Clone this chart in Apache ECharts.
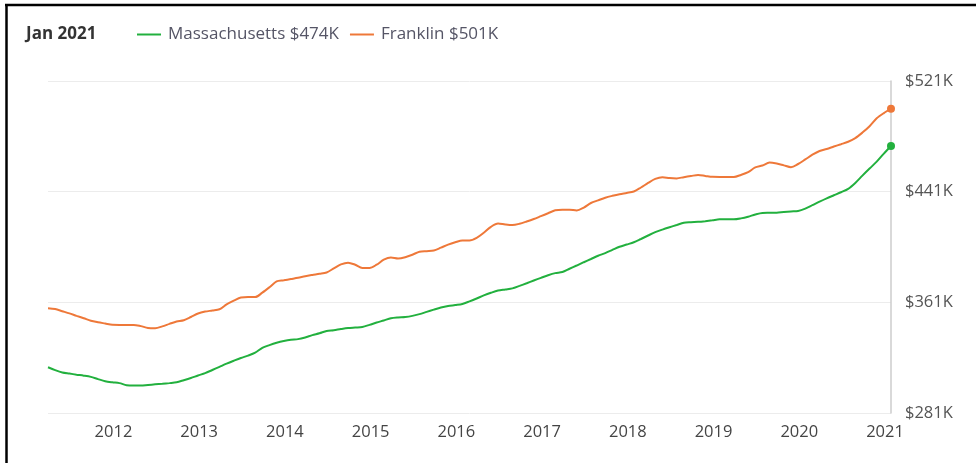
<!DOCTYPE html>
<html>
<head>
<meta charset="utf-8">
<script src="https://cdn.jsdelivr.net/npm/echarts@6/dist/echarts.min.js"></script>
<style>
  html, body { margin: 0; padding: 0; background: #fff; }
  #chart { width: 976px; height: 463px; }
</style>
</head>
<body>
<div id="chart"></div>
<script>
// monthly series, Mar 2011 .. Jan 2021 (values in $K)
const startYear = 2011;
const startMonth = 3;

const massachusetts = [
  314.1, 312.0, 310.3, 309.5, 308.7, 308.0, 307.1, 305.5, 304.0, 303.2,
  302.6, 301.1, 300.8, 300.8, 301.3, 301.7, 302.1, 302.6, 303.2, 304.7,
  306.3, 308.1, 309.8, 312.1, 314.4, 316.7, 318.8, 320.8, 322.5, 324.6,
  328.1, 330.1, 331.8, 333.1, 334.0, 334.4, 335.6, 337.3, 338.6, 340.3,
  340.9, 341.7, 342.4, 342.8, 343.2, 344.7, 346.4, 347.9, 349.5, 350.1,
  350.4, 351.2, 352.5, 354.1, 355.7, 357.2, 358.3, 359.0, 359.8, 361.7,
  363.8, 366.0, 367.9, 369.5, 370.3, 371.1, 372.9, 374.8, 376.8, 378.7,
  380.6, 382.1, 382.9, 385.3, 387.6, 390.0, 392.3, 394.7, 396.6, 398.9,
  401.2, 402.8, 404.4, 406.8, 409.3, 411.7, 413.6, 415.3, 416.9, 418.5,
  418.9, 419.2, 419.7, 420.3, 421.0, 421.0, 421.0, 421.7, 422.9, 424.5,
  425.6, 425.7, 425.8, 426.3, 426.7, 427.0, 428.7, 431.2, 433.8, 436.2,
  438.4, 440.6, 443.0, 447.3, 452.6, 457.7, 462.7, 468.5, 474.0
];

const franklin = [
  356.8, 356.2, 354.6, 353.0, 351.2, 349.5, 347.7, 346.6, 345.7, 344.8,
  344.7, 344.7, 344.7, 343.8, 342.5, 342.3, 343.6, 345.4, 347.1, 348.1,
  350.4, 352.9, 354.3, 355.1, 356.0, 359.5, 362.2, 364.5, 364.8, 364.8,
  368.0, 371.9, 376.1, 376.9, 377.8, 378.7, 379.9, 380.8, 381.6, 382.6,
  385.5, 388.4, 389.7, 388.2, 385.9, 385.8, 388.2, 391.8, 393.4, 392.7,
  393.6, 395.4, 397.6, 398.0, 398.4, 400.5, 402.7, 404.4, 405.7, 405.7,
  407.6, 411.3, 415.6, 418.0, 417.3, 416.9, 417.8, 419.4, 421.2, 423.3,
  425.4, 427.5, 428.0, 428.0, 427.4, 429.5, 432.8, 434.7, 436.6, 438.0,
  439.2, 440.1, 441.1, 444.0, 447.3, 450.2, 451.4, 450.8, 450.6, 451.5,
  452.3, 453.1, 452.4, 451.7, 451.6, 451.6, 451.6, 453.1, 455.1, 458.5,
  459.9, 462.0, 461.3, 460.0, 458.7, 461.0, 464.3, 467.7, 470.4, 471.8,
  473.6, 475.3, 477.1, 479.7, 483.7, 488.3, 494.0, 497.8, 501.0
];

const yTicks = [281, 361, 441, 521];
const seriesNames = ['Massachusetts $474K', 'Franklin $501K'];
const headerLabel = 'Jan 2021';

const months = [];
for (let i = 0; i < massachusetts.length; i++) {
  const m = startMonth - 1 + i;
  const y = startYear + Math.floor(m / 12);
  const mm = (m % 12) + 1;
  months.push(y + '-' + (mm < 10 ? '0' + mm : mm));
}

const lastIndex = months.length - 1;
const font = '"Open Sans", "Noto Sans", sans-serif';

const chart = echarts.init(document.getElementById('chart'));

chart.setOption({
  animation: false,
  color: ['#22b03e', '#ee7839'],
  textStyle: { fontFamily: font },
  grid: { left: 48, right: 85, top: 81, bottom: 50 },
  title: {
    text: headerLabel,
    left: 21,
    top: 21,
    textStyle: { fontFamily: font, fontSize: 17, fontWeight: 'bold', color: '#333' }
  },
  legend: {
    left: 132,
    top: 21,
    itemWidth: 24,
    itemHeight: 2,
    itemGap: 11,
    icon: 'rect',
    textStyle: { fontFamily: font, fontSize: 17, color: '#555566', padding: [0, 0, 0, 2] },
    data: seriesNames
  },
  xAxis: {
    type: 'category',
    boundaryGap: false,
    data: months,
    axisLine: { show: false },
    axisTick: { show: false },
    splitLine: { show: false },
    axisLabel: {
      interval: (idx, val) => val.endsWith('-01'),
      formatter: (val) => val.slice(0, 4),
      fontFamily: font,
      fontSize: 16.5,
      color: '#444',
      margin: 11,
      padding: [0, 12, 0, 0]
    }
  },
  yAxis: {
    type: 'value',
    position: 'right',
    min: yTicks[0],
    max: yTicks[yTicks.length - 1],
    interval: yTicks[1] - yTicks[0],
    axisLine: { show: true, lineStyle: { color: '#cccccc', width: 1.5 } },
    axisTick: { show: false },
    splitLine: { lineStyle: { color: '#ececec', width: 1 } },
    axisLabel: {
      formatter: (v) => '$' + v + 'K',
      fontFamily: font,
      fontSize: 16.5,
      color: '#555',
      margin: 14
    }
  },
  series: [
    {
      name: seriesNames[0],
      type: 'line',
      data: massachusetts,
      smooth: 0.3,
      symbol: 'circle',
      showSymbol: true,
      showAllSymbol: true,
      symbolSize: (v, p) => (p.dataIndex === lastIndex ? 8 : 0),
      lineStyle: { width: 2 },
      z: 3
    },
    {
      name: seriesNames[1],
      type: 'line',
      data: franklin,
      smooth: 0.3,
      symbol: 'circle',
      showSymbol: true,
      showAllSymbol: true,
      symbolSize: (v, p) => (p.dataIndex === lastIndex ? 8 : 0),
      lineStyle: { width: 2 },
      z: 3
    }
  ],
  graphic: [
    {
      type: 'line',
      shape: { x1: 5, y1: 5, x2: 976, y2: 5 },
      style: { stroke: '#000', lineWidth: 2.5 }
    },
    {
      type: 'line',
      shape: { x1: 6.5, y1: 4, x2: 6.5, y2: 463 },
      style: { stroke: '#000', lineWidth: 2.5 }
    }
  ]
});
</script>
</body>
</html>
